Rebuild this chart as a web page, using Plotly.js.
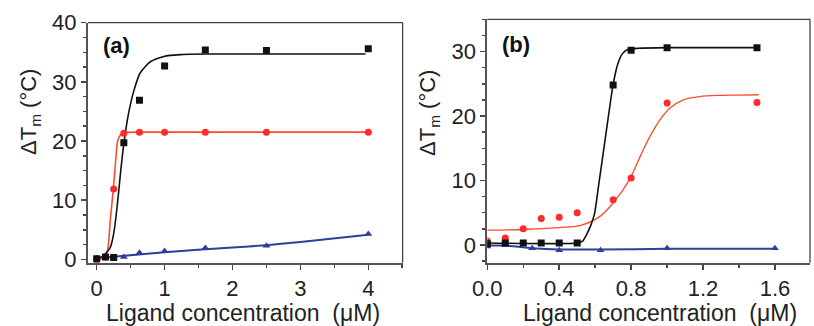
<!DOCTYPE html>
<html>
<head>
<meta charset="utf-8">
<script src="https://cdn.plot.ly/plotly-3.0.1.min.js"></script>
<style>html,body{margin:0;padding:0;background:#fff;}#chart{width:814px;height:326px;}</style>
</head>
<body>
<div id="chart"></div>
<script>
// ---------- Panel (a) data ----------
const aBlackX = [0, 0.13, 0.25, 0.4, 0.63, 1.0, 1.6, 2.5, 4.0];
const aBlackY = [0.1, 0.4, 0.3, 19.7, 26.9, 32.7, 35.4, 35.3, 35.6];
const aBlackFitX = [0, 0.1, 0.13, 0.2, 0.25, 0.3, 0.35, 0.4, 0.47, 0.55, 0.64, 0.79, 0.99, 1.23, 1.6, 2.5, 3.96];
const aBlackFitY = [0.3, 0.5, 0.9, 2.0, 4.3, 8.8, 14.5, 19.6, 24.7, 28.6, 31.5, 33.4, 34.3, 34.6, 34.7, 34.7, 34.7];
const aRedX = [0, 0.13, 0.25, 0.4, 0.63, 1.0, 1.6, 2.5, 4.0];
const aRedY = [-0.1, 0.4, 11.9, 21.3, 21.5, 21.5, 21.5, 21.5, 21.5];
const aRedFitX = [0, 0.11, 0.16, 0.2, 0.245, 0.28, 0.31, 0.35, 0.39, 0.63, 1.0, 1.6, 2.5, 4.0];
const aRedFitY = [-0.3, 0.5, 1.5, 6.6, 11.9, 16.7, 20.1, 21.0, 21.4, 21.5, 21.5, 21.5, 21.5, 21.5];
const aBlueX = [0, 0.13, 0.25, 0.4, 0.63, 1.0, 1.6, 2.5, 4.0];
const aBlueY = [0.2, 0.6, 0.2, 0.4, 1.1, 1.4, 1.9, 2.3, 4.3];
const aBlueFitX = [0, 1, 2, 2.5, 3, 4];
const aBlueFitY = [0.2, 1.2, 2.0, 2.4, 2.95, 4.15];

// ---------- Panel (b) data ----------
const bBlackX = [0, 0.1, 0.2, 0.3, 0.4, 0.5, 0.7, 0.8, 1.0, 1.5];
const bBlackY = [0.2, 0.3, 0.3, 0.3, 0.3, 0.3, 24.8, 30.2, 30.6, 30.6];
const bBlackFitX = [0, 0.5, 0.53, 0.55, 0.575, 0.597, 0.62, 0.65, 0.675, 0.70, 0.725, 0.75, 0.78, 0.84, 1.0, 1.5];
const bBlackFitY = [0.3, 0.3, 0.6, 1.5, 3.0, 4.9, 9.4, 15.3, 20.2, 24.9, 28.0, 29.6, 30.3, 30.5, 30.6, 30.6];
const bRedX = [0, 0.1, 0.2, 0.3, 0.4, 0.5, 0.7, 0.8, 1.0, 1.5];
const bRedY = [0.6, 1.1, 2.5, 4.1, 4.3, 5.0, 7.0, 10.4, 22.0, 22.1];
const bRedFitX = [0, 0.2, 0.4, 0.514, 0.625, 0.70, 0.79, 0.85, 0.904, 0.96, 1.015, 1.09, 1.18, 1.29, 1.4, 1.51];
const bRedFitY = [2.3, 2.4, 2.7, 3.0, 4.4, 6.5, 10.1, 13.7, 16.8, 19.4, 21.2, 22.5, 23.0, 23.2, 23.25, 23.3];
const bBlueX = [0, 0.1, 0.25, 0.4, 0.63, 1.0, 1.6];
const bBlueY = [-0.25, 0.0, -0.5, -0.8, -0.8, -0.5, -0.5];
const bBlueFitX = [0, 0.1, 0.25, 0.4, 0.63, 1.0, 1.6];
const bBlueFitY = [-0.1, -0.1, -0.5, -0.7, -0.7, -0.6, -0.6];

// ---------- Labels ----------
const panelLabels = ['(a)', '(b)'];
const xTitle = 'Ligand concentration\u00a0\u00a0(\u03bcM)';
const yTitle = '\u0394T<sub>m</sub> (\u00b0C)';
const aXTicks = [0, 1, 2, 3, 4];
const bXTicks = [0, 0.4, 0.8, 1.2, 1.6];
const bXTickText = ['0.0', '0.4', '0.8', '1.2', '1.6'];

const BLACK = '#111111', RED = '#ff2a2a', REDLINE = '#ff4a2e', BLUE = '#2f3f9e';

function fit(x, y, color, w, xa, ya, sm) {
  return {x: x, y: y, xaxis: xa, yaxis: ya, mode: 'lines', type: 'scatter',
    line: {color: color, width: w, shape: 'spline', smoothing: sm || 0.6}, hoverinfo: 'skip'};
}
function pts(x, y, color, sym, sz, xa, ya) {
  return {x: x, y: y, xaxis: xa, yaxis: ya, mode: 'markers', type: 'scatter',
    marker: {color: color, symbol: sym, size: sz, line: {width: 0}}};
}

const traces = [
  fit(aBlueFitX, aBlueFitY, BLUE, 2, 'x', 'y'),
  fit(aRedFitX, aRedFitY, REDLINE, 1.6, 'x', 'y'),
  fit(aBlackFitX, aBlackFitY, BLACK, 1.6, 'x', 'y'),
  pts(aBlueX, aBlueY, BLUE, 'triangle-up', 7, 'x', 'y'),
  pts(aRedX, aRedY, RED, 'circle', 7, 'x', 'y'),
  pts(aBlackX, aBlackY, BLACK, 'square', 7, 'x', 'y'),
  fit(bBlueFitX, bBlueFitY, BLUE, 2, 'x2', 'y2'),
  fit(bRedFitX, bRedFitY, REDLINE, 1.3, 'x2', 'y2', 1),
  fit(bBlackFitX, bBlackFitY, BLACK, 1.6, 'x2', 'y2'),
  pts(bBlueX, bBlueY, BLUE, 'triangle-up', 7, 'x2', 'y2'),
  pts(bRedX, bRedY, RED, 'circle', 7, 'x2', 'y2'),
  pts(bBlackX, bBlackY, BLACK, 'square', 7, 'x2', 'y2')
];

const FONT = 'Liberation Sans, Arial, sans-serif';
const axBase = {
  showgrid: false, zeroline: false, showline: true, linewidth: 2, linecolor: '#555',
  ticks: 'outside', ticklen: 5, tickwidth: 1.5, tickcolor: '#444',
  tickfont: {family: FONT, size: 22, color: '#222'}, fixedrange: true
};

const W = 814, H = 326;
const ax = [88 / W, 402.7 / W], bx = [487.3 / W, 810 / W];
const ay = [1 - 262.7 / H, 1 - 22.7 / H], by = [1 - 262.7 / H, 1 - 19.3 / H];

const layout = {
  width: W, height: H, margin: {l: 0, r: 0, t: 0, b: 0},
  paper_bgcolor: '#fff', plot_bgcolor: '#fff', showlegend: false,
  font: {family: FONT, color: '#222'},
  xaxis: Object.assign({}, axBase, {domain: ax, range: [-0.128, 4.507], tickvals: aXTicks,
    minor: {dtick: 0.5, tick0: 0, ticks: 'outside', ticklen: 3, tickcolor: '#444'}, anchor: 'y'}),
  yaxis: Object.assign({}, axBase, {domain: ay, range: [-0.57, 40], dtick: 10, tick0: 0,
    minor: {dtick: 2.5, tick0: 0, ticks: 'outside', ticklen: 3, tickcolor: '#444'}, anchor: 'x'}),
  xaxis2: Object.assign({}, axBase, {domain: bx, range: [0, 1.795], tickvals: bXTicks, ticktext: bXTickText,
    minor: {dtick: 0.2, tick0: 0, ticks: 'outside', ticklen: 3, tickcolor: '#444'}, anchor: 'y2'}),
  yaxis2: Object.assign({}, axBase, {domain: by, range: [-2.75, 35], dtick: 10, tick0: 0,
    minor: {dtick: 2.5, tick0: 0, ticks: 'outside', ticklen: 3, tickcolor: '#444'}, anchor: 'x2'}),
  shapes: [
    {type: 'line', xref: 'paper', yref: 'paper', x0: ax[0], x1: ax[1], y0: ay[1], y1: ay[1], line: {color: '#111', width: 1}},
    {type: 'line', xref: 'paper', yref: 'paper', x0: ax[1], x1: ax[1], y0: ay[0], y1: ay[1], line: {color: '#111', width: 1}},
    {type: 'line', xref: 'paper', yref: 'paper', x0: bx[0], x1: bx[1], y0: by[1], y1: by[1], line: {color: '#111', width: 1}},
    {type: 'line', xref: 'paper', yref: 'paper', x0: bx[1], x1: bx[1], y0: by[0], y1: by[1], line: {color: '#111', width: 1}}
  ],
  annotations: [
    {text: '<b>' + panelLabels[0] + '</b>', xref: 'paper', yref: 'paper', x: 116 / W, y: 1 - 46 / H,
      xanchor: 'center', yanchor: 'middle', showarrow: false, font: {family: FONT, size: 22, color: '#111'}},
    {text: '<b>' + panelLabels[1] + '</b>', xref: 'paper', yref: 'paper', x: 516 / W, y: 1 - 45 / H,
      xanchor: 'center', yanchor: 'middle', showarrow: false, font: {family: FONT, size: 22, color: '#111'}},
    {text: xTitle, xref: 'paper', yref: 'paper', x: 243 / W, y: 1 - 313 / H,
      xanchor: 'center', yanchor: 'middle', showarrow: false, font: {family: FONT, size: 23, color: '#222'}},
    {text: xTitle, xref: 'paper', yref: 'paper', x: 660 / W, y: 1 - 313 / H,
      xanchor: 'center', yanchor: 'middle', showarrow: false, font: {family: FONT, size: 23, color: '#222'}},
    {text: yTitle, xref: 'paper', yref: 'paper', x: 30 / W, y: 1 - 112 / H, textangle: -90,
      xanchor: 'center', yanchor: 'middle', showarrow: false, font: {family: FONT, size: 22, color: '#222'}},
    {text: yTitle, xref: 'paper', yref: 'paper', x: 429 / W, y: 1 - 113 / H, textangle: -90,
      xanchor: 'center', yanchor: 'middle', showarrow: false, font: {family: FONT, size: 22, color: '#222'}}
  ]
};

Plotly.newPlot('chart', traces, layout, {displayModeBar: false, staticPlot: true});
</script>
</body>
</html>
